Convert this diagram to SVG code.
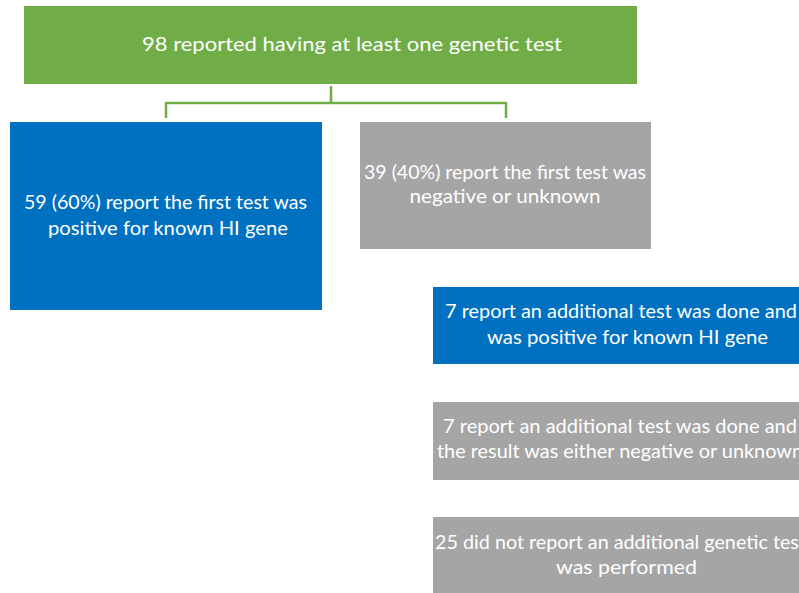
<svg xmlns="http://www.w3.org/2000/svg" width="799" height="593" viewBox="0 0 799 593">
<style>
.t{font-family:Lato,"Open Sans","Liberation Sans",sans-serif;font-size:19px;fill:#ffffff;text-anchor:middle}
.s{text-anchor:start}
.g{fill:#70AD47}
.b{fill:#0070C0}
.r{fill:#A5A5A5}
.c{stroke:#70AD47;stroke-width:2.5;fill:none}
</style>
<rect width="799" height="593" fill="#ffffff"/>
<g id="connectors">
<path class="c" d="M331 86 V103 M166 103 H506 M166 102 V118 M506 102 V118"/>
</g>
<g id="n-top">
<rect class="g" x="24" y="6" width="613" height="78"/>
<text class="t" x="352" y="51" textLength="420" lengthAdjust="spacingAndGlyphs">98 reported having at least one genetic test</text>
</g>
<g id="n-pos1">
<rect class="b" x="10" y="122" width="312" height="188"/>
<text class="t" x="165.5" y="209" textLength="283" lengthAdjust="spacingAndGlyphs">59 (60%) report the first test was</text>
<text class="t" x="168" y="235" textLength="240" lengthAdjust="spacingAndGlyphs">positive for known HI gene</text>
</g>
<g id="n-neg1">
<rect class="r" x="360" y="122" width="291" height="127"/>
<text class="t" x="505" y="179" textLength="282" lengthAdjust="spacingAndGlyphs">39 (40%) report the first test was</text>
<text class="t" x="505" y="203" textLength="191" lengthAdjust="spacingAndGlyphs">negative or unknown</text>
</g>
<g id="n-pos2">
<rect class="b" x="433" y="287" width="390" height="77"/>
<text class="t s" x="445" y="318" textLength="352" lengthAdjust="spacingAndGlyphs">7 report an additional test was done and</text>
<text class="t" x="627.5" y="344" textLength="281" lengthAdjust="spacingAndGlyphs">was positive for known HI gene</text>
</g>
<g id="n-neg2">
<rect class="r" x="433" y="402" width="390" height="78"/>
<text class="t s" x="443" y="433" textLength="354" lengthAdjust="spacingAndGlyphs">7 report an additional test was done and</text>
<text class="t s" x="437" y="458" textLength="366" lengthAdjust="spacingAndGlyphs">the result was either negative or unknown</text>
</g>
<g id="n-none">
<rect class="r" x="433" y="517" width="390" height="76"/>
<text class="t s" x="435" y="549" textLength="371" lengthAdjust="spacingAndGlyphs">25 did not report an additional genetic test</text>
<text class="t" x="626.5" y="574" textLength="141" lengthAdjust="spacingAndGlyphs">was performed</text>
</g>
</svg>
